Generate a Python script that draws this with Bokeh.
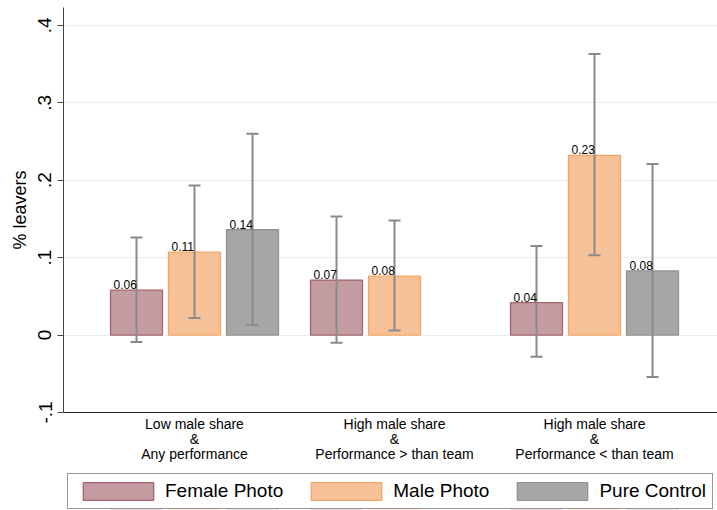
from bokeh.plotting import figure
from bokeh.layouts import column
from bokeh.models import (ColumnDataSource, FixedTicker, CustomJSTickFormatter,
                          Legend, LegendItem, Range1d, LinearAxis)
from bokeh.transform import dodge
from bokeh.core.properties import value
from bokeh.embed import file_html
from bokeh.resources import INLINE

# ---- data ----
group_line1 = ["Low male share", "High male share", "High male share"]
group_line2 = ["&", "&", "&"]
group_line3 = ["Any performance", "Performance > than team",
               "Performance < than team"]
group_pos = [1, 2, 3]

female_grp = [1, 2, 3]
female_vals = [0.058, 0.071, 0.042]
female_lo = [-0.009, -0.010, -0.028]
female_hi = [0.126, 0.153, 0.115]

male_grp = [1, 2, 3]
male_vals = [0.107, 0.076, 0.232]
male_lo = [0.022, 0.006, 0.103]
male_hi = [0.193, 0.148, 0.363]

control_grp = [1, 3]
control_vals = [0.136, 0.083]
control_lo = [0.013, -0.054]
control_hi = [0.260, 0.221]

series_names = ["Female Photo", "Male Photo", "Pure Control"]
y_ticks = [-0.1, 0, 0.1, 0.2, 0.3, 0.4]

FONT = "Liberation Sans"

p = figure(frame_width=654, frame_height=405,
           x_range=Range1d(0.345, 3.615), y_range=Range1d(-0.1, 0.423),
           output_backend="svg", toolbar_location=None,
           min_border_left=63, min_border_right=0, min_border_top=7,
           min_border_bottom=60)
p.outline_line_color = None
p.xgrid.visible = False
p.ygrid.grid_line_color = "#e6eef0"
p.ygrid.grid_line_width = 1.2

OFF = 0.29
BW = 0.26
styles = [
    dict(fill="#c39ca1", line="#a4636b", off=-OFF),
    dict(fill="#f6c196", line="#f3a566", off=0.0),
    dict(fill="#a6a6a6", line="#929292", off=OFF),
]
data = [
    (female_grp, female_vals, female_lo, female_hi),
    (male_grp, male_vals, male_lo, male_hi),
    (control_grp, control_vals, control_lo, control_hi),
]

sources = []
for st, (g, v, lo, hi) in zip(styles, data):
    src = ColumnDataSource(dict(g=g, v=v, lo=lo, hi=hi,
                                lab=[f"{x:.2f}" for x in v]))
    sources.append(src)
    xs = dodge("g", st["off"], range=p.x_range)
    p.vbar(x=xs, top="v", bottom=0, width=BW, source=src,
           fill_color=st["fill"], line_color=st["line"], line_width=1.3)
    p.segment(x0=xs, y0="lo", x1=xs, y1="hi", source=src,
              line_color="#8a8a8a", line_width=2)
    for col in ("lo", "hi"):
        p.scatter(x=xs, y=col, marker="dash", size=12,
                  line_color="#8a8a8a", line_width=2, source=src)
    p.text(x=dodge("g", st["off"] - BW / 2, range=p.x_range), y="v",
           text="lab", source=src, x_offset=3, y_offset=-1,
           text_baseline="bottom", text_align="left",
           text_font=value(FONT), text_font_size="12px",
           text_color="black")

# y axis
yax = p.yaxis[0]
yax.ticker = FixedTicker(ticks=y_ticks)
yax.formatter = CustomJSTickFormatter(
    code="if (Math.abs(tick) < 1e-9) { return '0'; } "
         "return tick.toFixed(1).replace('0.', '.');")
yax.minor_tick_line_color = None
yax.major_tick_out = 6
yax.major_tick_in = 0
yax.major_label_orientation = "vertical"
yax.major_label_standoff = 6
yax.major_label_text_font = FONT
yax.major_label_text_font_size = "19px"
yax.major_label_text_color = "black"
yax.axis_label = "% leavers"
yax.axis_label_text_font = FONT
yax.axis_label_text_font_size = "18px"
yax.axis_label_text_font_style = "normal"
yax.axis_label_text_color = "black"
yax.axis_label_standoff = 6
yax.axis_line_color = "#444444"
yax.major_tick_line_color = "#444444"


def style_xaxis(ax, labels, standoff, show_line):
    ax.ticker = FixedTicker(ticks=group_pos)
    ax.major_label_overrides = {k: lab for k, lab in zip(group_pos, labels)}
    ax.major_tick_out = 0
    ax.major_tick_in = 0
    ax.minor_tick_line_color = None
    ax.major_tick_line_color = None
    ax.major_label_standoff = standoff
    ax.major_label_text_font = FONT
    ax.major_label_text_font_size = "14px"
    ax.major_label_text_color = "black"
    ax.axis_line_color = "#222222" if show_line else None


style_xaxis(p.xaxis[0], group_line1, 3, True)
ax2 = LinearAxis()
style_xaxis(ax2, group_line2, -4, False)
p.add_layout(ax2, "below")
ax3 = LinearAxis()
style_xaxis(ax3, group_line3, -4, False)
p.add_layout(ax3, "below")

# ---- legend strip (bars drawn out of view; only the legend shows) ----
pl = figure(width=717, height=38, x_range=p.x_range, y_range=Range1d(10, 11),
            output_backend="svg", toolbar_location=None,
            x_axis_type=None, y_axis_type=None,
            min_border_left=0, min_border_right=0, min_border_top=0,
            min_border_bottom=0)
pl.outline_line_color = None
pl.xgrid.visible = False
pl.ygrid.visible = False
items = []
for name, st, src in zip(series_names, styles, sources):
    r = pl.vbar(x=dodge("g", st["off"], range=pl.x_range), top="v", bottom=0,
                width=BW, source=src, fill_color=st["fill"],
                line_color=st["line"], line_width=1.3)
    items.append(LegendItem(label=name, renderers=[r]))

legend = Legend(items=items, orientation="horizontal", location=(4, 1),
                glyph_width=88, glyph_height=22, label_height=22,
                label_standoff=3, spacing=19, padding=6, margin=0,
                border_line_color="#333333", border_line_width=1,
                label_text_font=FONT, label_text_font_size="19px",
                label_text_color="black")
pl.add_layout(legend, "center")

layout = column(p, pl, spacing=0)
open("out.html", "w").write(file_html(layout, INLINE))
